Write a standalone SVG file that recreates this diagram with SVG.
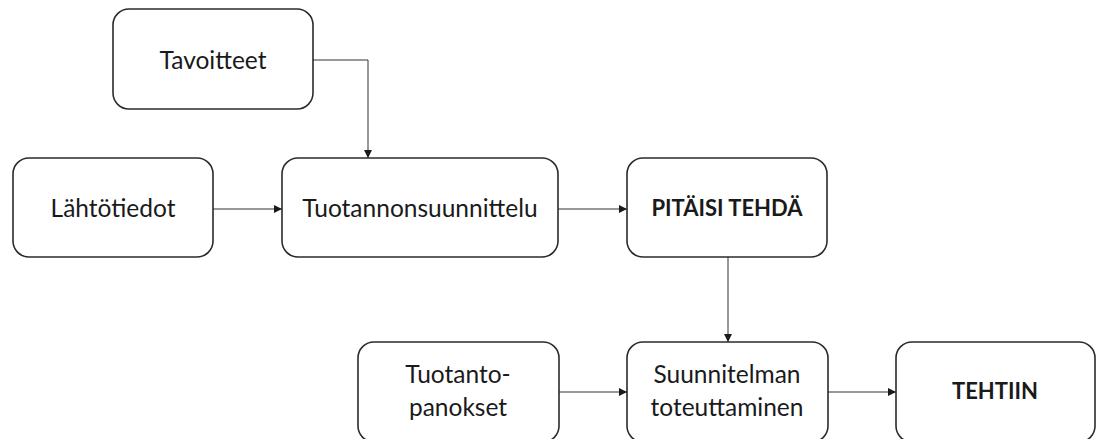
<svg xmlns="http://www.w3.org/2000/svg" width="1096" height="439" viewBox="0 0 1096 439">
  <style>
    .box { fill: #ffffff; stroke: #2b2b2b; stroke-width: 1.6; }
    .lbl { font-family: Lato, "Open Sans", "Liberation Sans", sans-serif; font-size: 24.5px; fill: #1a1a1a; text-anchor: middle; }
    .bold { font-weight: bold; font-size: 22px; }
    .wire { fill: none; stroke: #333333; stroke-width: 1; }
  </style>
  <defs>
    <marker id="arrow" viewBox="0 0 10 10" refX="10" refY="5" markerWidth="8" markerHeight="8" markerUnits="userSpaceOnUse" orient="auto">
      <path d="M0,0 L10,5 L0,10 Z" fill="#1a1a1a"/>
    </marker>
  </defs>
  <rect width="1096" height="439" fill="#ffffff"/>

  <g id="connectors">
    <path class="wire" d="M313,60 H368 V158" marker-end="url(#arrow)"/>
    <path class="wire" d="M213,209 H282" marker-end="url(#arrow)"/>
    <path class="wire" d="M558,209 H627" marker-end="url(#arrow)"/>
    <path class="wire" d="M728,257 V342" marker-end="url(#arrow)"/>
    <path class="wire" d="M559,392 H627" marker-end="url(#arrow)"/>
    <path class="wire" d="M828,392 H896" marker-end="url(#arrow)"/>
  </g>

  <g id="tavoitteet">
    <rect class="box" x="113" y="9" width="200" height="100" rx="16"/>
    <text class="lbl" x="213" y="69">Tavoitteet</text>
  </g>
  <g id="lahtotiedot">
    <rect class="box" x="13" y="158" width="200" height="99" rx="16"/>
    <text class="lbl" x="113" y="217">Lähtötiedot</text>
  </g>
  <g id="tuotannonsuunnittelu">
    <rect class="box" x="282" y="158" width="276" height="99" rx="16"/>
    <text class="lbl" x="420" y="217">Tuotannonsuunnittelu</text>
  </g>
  <g id="pitaisi-tehda">
    <rect class="box" x="627" y="158" width="200" height="99" rx="16"/>
    <text class="lbl bold" x="727" y="216">PITÄISI TEHDÄ</text>
  </g>
  <g id="tuotantopanokset">
    <rect class="box" x="358" y="342" width="201" height="100" rx="16"/>
    <text class="lbl" x="458" y="383">Tuotanto-</text>
    <text class="lbl" x="458" y="416">panokset</text>
  </g>
  <g id="suunnitelman-toteuttaminen">
    <rect class="box" x="627" y="342" width="201" height="100" rx="16"/>
    <text class="lbl" x="727" y="383">Suunnitelman</text>
    <text class="lbl" x="727" y="416">toteuttaminen</text>
  </g>
  <g id="tehtiin">
    <rect class="box" x="896" y="342" width="199" height="100" rx="16"/>
    <text class="lbl bold" x="995" y="399">TEHTIIN</text>
  </g>
</svg>
